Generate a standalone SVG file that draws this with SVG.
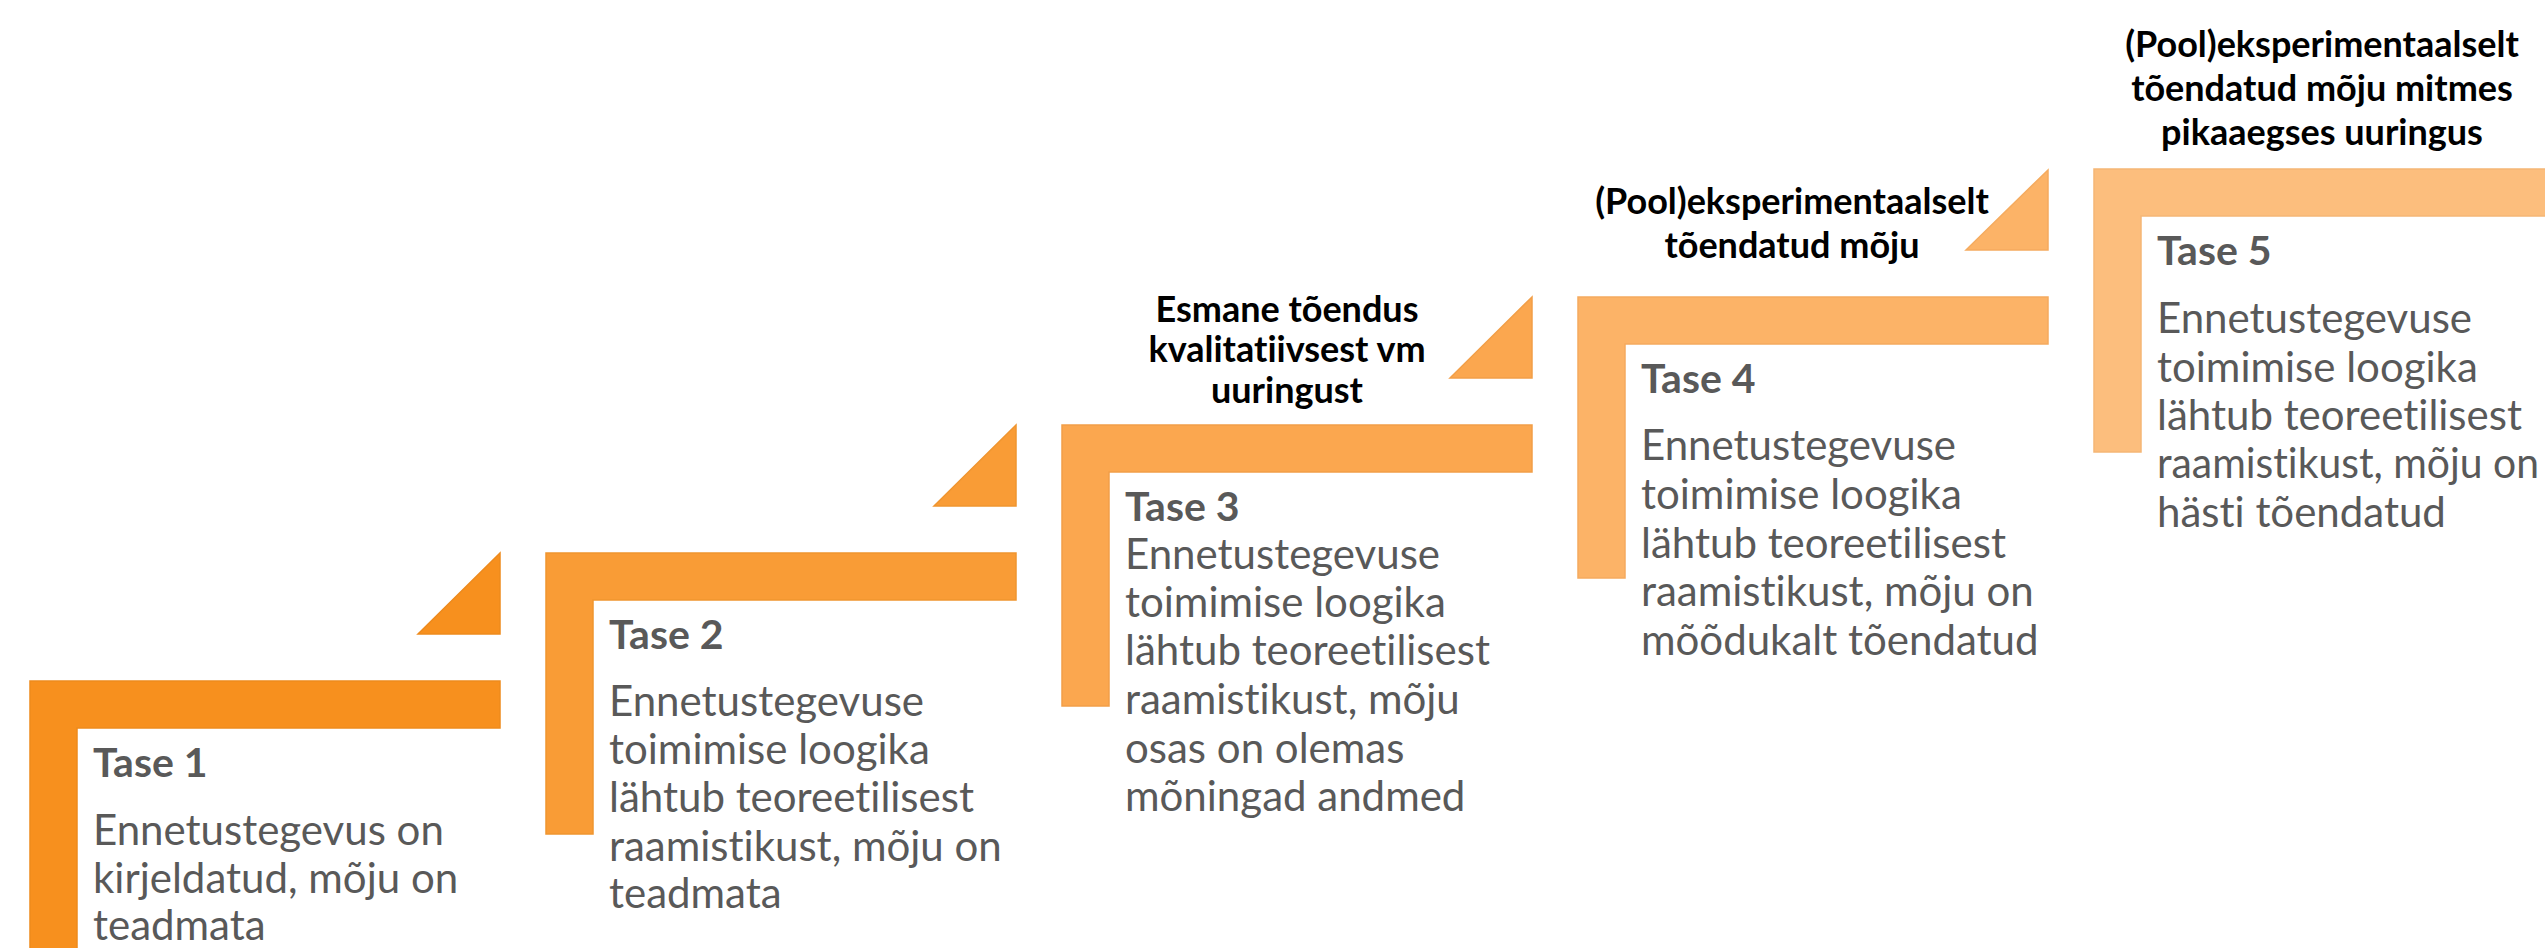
<svg xmlns="http://www.w3.org/2000/svg" width="2545" height="948" viewBox="0 0 2545 948">
<style>
text{font-variant-ligatures:none;font-feature-settings:"liga" 0,"dlig" 0}
.title{font-family:Lato,"Open Sans","Liberation Sans",sans-serif;font-weight:bold;font-size:41px;fill:#595959}
.body{font-family:Lato,"Open Sans","Liberation Sans",sans-serif;font-size:42px;fill:#595959}
.lbl{font-family:Lato,"Open Sans","Liberation Sans",sans-serif;font-weight:bold;font-size:36px;fill:#000;text-anchor:middle}
</style>
<rect width="2545" height="948" fill="#fff"/>
<g id="connectors">
<polygon points="418,634 500,553 500,634" fill="#F7901E" stroke="#EE8A1C" stroke-width="1.5"/>
<polygon points="934,506 1016,425 1016,506" fill="#F99C36" stroke="#F0952F" stroke-width="1.5"/>
<polygon points="1450,378 1532,297 1532,378" fill="#FBA74F" stroke="#F29F48" stroke-width="1.5"/>
<polygon points="1966,250 2048,170 2048,250" fill="#FCB367" stroke="#F5AB5F" stroke-width="1.5"/>
</g>
<g id="tase1">
<path d="M30,681 H500 V728 H77 V960 H30 Z" fill="#F7901E" stroke="#EE8A1C" stroke-width="1.5"/>
<text class="title" x="93" y="777">Tase 1</text>
<text class="body" x="93" y="845">Ennetustegevus on</text>
<text class="body" x="93" y="893">kirjeldatud, mõju on</text>
<text class="body" x="93" y="940">teadmata</text>
</g>
<g id="tase2">
<path d="M546,553 H1016 V600 H593 V834 H546 Z" fill="#F99C36" stroke="#F0952F" stroke-width="1.5"/>
<text class="title" x="609" y="649">Tase 2</text>
<text class="body" x="609" y="716">Ennetustegevuse</text>
<text class="body" x="609" y="764">toimimise loogika</text>
<text class="body" x="609" y="812">lähtub teoreetilisest</text>
<text class="body" x="609" y="861">raamistikust, mõju on</text>
<text class="body" x="609" y="908">teadmata</text>
</g>
<g id="tase3">
<path d="M1062,425 H1532 V472 H1109 V706 H1062 Z" fill="#FBA74F" stroke="#F29F48" stroke-width="1.5"/>
<text class="lbl" x="1287" y="322">Esmane tõendus</text>
<text class="lbl" x="1287" y="362">kvalitatiivsest vm</text>
<text class="lbl" x="1287" y="403">uuringust</text>
<text class="title" x="1125" y="521">Tase 3</text>
<text class="body" x="1125" y="569">Ennetustegevuse</text>
<text class="body" x="1125" y="617">toimimise loogika</text>
<text class="body" x="1125" y="665">lähtub teoreetilisest</text>
<text class="body" x="1125" y="714">raamistikust, mõju</text>
<text class="body" x="1125" y="763">osas on olemas</text>
<text class="body" x="1125" y="811">mõningad andmed</text>
</g>
<g id="tase4">
<path d="M1578,297 H2048 V344 H1625 V578 H1578 Z" fill="#FCB367" stroke="#F5AB5F" stroke-width="1.5"/>
<text class="lbl" x="1792" y="214">(Pool)eksperimentaalselt</text>
<text class="lbl" x="1792" y="258">tõendatud mõju</text>
<text class="title" x="1641" y="393">Tase 4</text>
<text class="body" x="1641" y="460">Ennetustegevuse</text>
<text class="body" x="1641" y="509">toimimise loogika</text>
<text class="body" x="1641" y="558">lähtub teoreetilisest</text>
<text class="body" x="1641" y="606">raamistikust, mõju on</text>
<text class="body" x="1641" y="655">mõõdukalt tõendatud</text>
</g>
<g id="tase5">
<path d="M2094,169 H2560 V216 H2141 V452 H2094 Z" fill="#FCBE7D" stroke="#F5B676" stroke-width="1.5"/>
<text class="lbl" x="2322" y="57">(Pool)eksperimentaalselt</text>
<text class="lbl" x="2322" y="101">tõendatud mõju mitmes</text>
<text class="lbl" x="2322" y="145">pikaaegses uuringus</text>
<text class="title" x="2157" y="265">Tase 5</text>
<text class="body" x="2157" y="333">Ennetustegevuse</text>
<text class="body" x="2157" y="382">toimimise loogika</text>
<text class="body" x="2157" y="430">lähtub teoreetilisest</text>
<text class="body" x="2157" y="478" textLength="382" lengthAdjust="spacingAndGlyphs">raamistikust, mõju on</text>
<text class="body" x="2157" y="527">hästi tõendatud</text>
</g>
</svg>
